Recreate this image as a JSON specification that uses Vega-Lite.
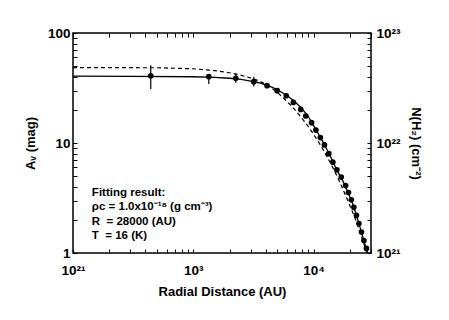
{
  "$schema": "https://vega.github.io/schema/vega-lite/v6.json",
  "autosize": "none",
  "width": 298,
  "height": 220,
  "padding": {"left": 73, "top": 33, "right": 78, "bottom": 67},
  "background": "white",
  "config": {
    "view": {"stroke": "black", "strokeWidth": 1.5},
    "font": "Liberation Sans",
    "axis": {
      "grid": false,
      "domain": false,
      "tickColor": "black",
      "tickWidth": 1,
      "tickSize": -4,
      "labelFont": "Liberation Sans",
      "labelFontWeight": "bold",
      "labelFontSize": 13.5,
      "labelColor": "black",
      "titleFont": "Liberation Sans",
      "titleFontWeight": "bold",
      "titleFontSize": 13,
      "titleColor": "black",
      "labelOverlap": false,
      "labelFlush": false
    }
  },
  "datasets": {
    "solid": [
      {"r": 100, "av": 40.5}, {"r": 300, "av": 40.4}, {"r": 1000, "av": 40.0},
      {"r": 1500, "av": 39.5}, {"r": 2000, "av": 38.8}, {"r": 2500, "av": 37.8},
      {"r": 3000, "av": 36.6}, {"r": 3500, "av": 35.3}, {"r": 4000, "av": 33.8},
      {"r": 4500, "av": 32.2}, {"r": 5000, "av": 30.5}, {"r": 6000, "av": 27.0},
      {"r": 7000, "av": 23.7}, {"r": 8000, "av": 20.5}, {"r": 9000, "av": 17.5},
      {"r": 10000, "av": 14.4}, {"r": 11000, "av": 12.0}, {"r": 12000, "av": 10.2},
      {"r": 13000, "av": 8.6}, {"r": 14000, "av": 7.3}, {"r": 15000, "av": 6.2},
      {"r": 16000, "av": 5.4}, {"r": 17000, "av": 4.8}, {"r": 18000, "av": 4.25},
      {"r": 19000, "av": 3.7}, {"r": 20000, "av": 3.25}, {"r": 21000, "av": 2.85},
      {"r": 22000, "av": 2.45}, {"r": 23000, "av": 2.1}, {"r": 24000, "av": 1.8},
      {"r": 25000, "av": 1.55}, {"r": 26000, "av": 1.33}, {"r": 27000, "av": 1.15},
      {"r": 28000, "av": 1.0}
    ],
    "dashed": [
      {"r": 100, "av": 48.5}, {"r": 500, "av": 48.3}, {"r": 1000, "av": 47.3},
      {"r": 1500, "av": 45.5}, {"r": 2000, "av": 43.5}, {"r": 2500, "av": 41.2},
      {"r": 3000, "av": 39.0}, {"r": 3500, "av": 36.8}, {"r": 4000, "av": 34.2},
      {"r": 4500, "av": 31.5}, {"r": 5000, "av": 28.8}, {"r": 6000, "av": 24.0},
      {"r": 7000, "av": 20.0}, {"r": 8000, "av": 16.8}, {"r": 9000, "av": 14.2},
      {"r": 10000, "av": 12.0}, {"r": 11000, "av": 10.2}, {"r": 12000, "av": 8.7},
      {"r": 13000, "av": 7.4}, {"r": 14000, "av": 6.4}, {"r": 15000, "av": 5.5},
      {"r": 16000, "av": 4.75}, {"r": 17000, "av": 4.1}, {"r": 18000, "av": 3.55},
      {"r": 19000, "av": 3.1}, {"r": 20000, "av": 2.7}, {"r": 22000, "av": 2.1},
      {"r": 24000, "av": 1.62}, {"r": 26000, "av": 1.24}, {"r": 27000, "av": 1.09},
      {"r": 28000, "av": 1.0}
    ],
    "obs": [
      {"r": 443, "av": 40.9, "lo": 31, "hi": 51},
      {"r": 1345, "av": 40.1, "lo": 34.4, "hi": 42.5},
      {"r": 2255, "av": 38.7, "lo": 35.3, "hi": 43},
      {"r": 3180, "av": 36.1, "lo": 32.6, "hi": 40.1},
      {"r": 4100, "av": 33.2, "lo": 32, "hi": 34.4},
      {"r": 4980, "av": 29.9, "lo": 29, "hi": 30.8},
      {"r": 5930, "av": 26.9, "lo": 26.2, "hi": 27.6},
      {"r": 6790, "av": 23.4, "lo": 22.8, "hi": 24},
      {"r": 7820, "av": 20.2, "lo": 19.7, "hi": 20.7},
      {"r": 8610, "av": 17.6, "lo": 17.2, "hi": 18},
      {"r": 9610, "av": 15.3, "lo": 15, "hi": 15.6},
      {"r": 10450, "av": 13.1, "lo": 12.8, "hi": 13.4},
      {"r": 11380, "av": 11.2, "lo": 11, "hi": 11.4},
      {"r": 12300, "av": 9.6, "lo": 9.4, "hi": 9.8},
      {"r": 13370, "av": 8.0, "lo": 7.85, "hi": 8.15},
      {"r": 14450, "av": 6.7, "lo": 6.6, "hi": 6.8},
      {"r": 15610, "av": 5.7, "lo": 5.6, "hi": 5.8},
      {"r": 16970, "av": 4.9, "lo": 4.8, "hi": 5.0},
      {"r": 18460, "av": 4.1, "lo": 4.0, "hi": 4.2},
      {"r": 19500, "av": 3.55, "lo": 3.48, "hi": 3.62},
      {"r": 20600, "av": 3.05, "lo": 3.0, "hi": 3.1},
      {"r": 21600, "av": 2.6, "lo": 2.55, "hi": 2.65},
      {"r": 22700, "av": 2.2, "lo": 2.16, "hi": 2.24},
      {"r": 23800, "av": 1.85, "lo": 1.82, "hi": 1.88},
      {"r": 25000, "av": 1.55, "lo": 1.52, "hi": 1.58},
      {"r": 26200, "av": 1.3, "lo": 1.28, "hi": 1.32},
      {"r": 27500, "av": 1.1, "lo": 1.08, "hi": 1.12}
    ],
    "right": [{"r": 100, "n": 1e21}, {"r": 30000, "n": 1e23}]
  },
  "layer": [
    {
      "layer": [
        {
          "data": {"name": "dashed"},
          "mark": {"type": "line", "color": "black", "strokeWidth": 1.2, "strokeDash": [4, 3], "clip": true},
          "encoding": {
            "x": {"field": "r", "type": "quantitative"},
            "y": {"field": "av", "type": "quantitative"}
          }
        },
        {
          "data": {"name": "solid"},
          "mark": {"type": "line", "color": "black", "strokeWidth": 1.3, "clip": true},
          "encoding": {
            "x": {"field": "r", "type": "quantitative"},
            "y": {"field": "av", "type": "quantitative"}
          }
        },
        {
          "data": {"name": "obs"},
          "mark": {"type": "rule", "color": "black", "strokeWidth": 1.2},
          "encoding": {
            "x": {"field": "r", "type": "quantitative"},
            "y": {"field": "lo", "type": "quantitative"},
            "y2": {"field": "hi"}
          }
        },
        {
          "data": {"name": "obs"},
          "mark": {"type": "point", "filled": true, "color": "black", "opacity": 1, "size": 32},
          "encoding": {
            "x": {
              "field": "r", "type": "quantitative",
              "scale": {"type": "log", "domain": [100, 30000], "nice": false},
              "axis": {
                "title": "Radial Distance (AU)",
                "values": [100, 200, 300, 400, 500, 600, 700, 800, 900, 1000, 2000, 3000, 4000, 5000, 6000, 7000, 8000, 9000, 10000, 20000, 30000],
                "labelExpr": "datum.value == 100 ? '10²¹' : datum.value == 1000 ? '10³' : datum.value == 10000 ? '10⁴' : ''",
                "labelPadding": 14,
                "titlePadding": 9
              }
            },
            "y": {
              "field": "av", "type": "quantitative",
              "scale": {"type": "log", "domain": [1, 100], "nice": false},
              "axis": {
                "title": "Aᵥ (mag)",
                "values": [1, 2, 3, 4, 5, 6, 7, 8, 9, 10, 20, 30, 40, 50, 60, 70, 80, 90, 100],
                "labelExpr": "datum.value == 1 ? '1' : datum.value == 10 ? '10' : datum.value == 100 ? '100' : ''",
                "labelPadding": 7,
                "titlePadding": 10
              }
            }
          }
        },
        {
          "data": {"values": [{"r": 143.5, "av": 4.0}]},
          "mark": {
            "type": "text", "align": "left", "baseline": "top",
            "font": "Liberation Sans", "fontWeight": "bold", "fontSize": 11.5,
            "lineHeight": 14.5, "color": "black",
            "text": ["Fitting result:", "ρc = 1.0x10⁻¹⁸ (g cm⁻³)", "R\u00a0 = 28000 (AU)", "T\u00a0 = 16 (K)"]
          },
          "encoding": {
            "x": {"field": "r", "type": "quantitative"},
            "y": {"field": "av", "type": "quantitative"}
          }
        }
      ]
    },
    {
      "data": {"name": "right"},
      "mark": {"type": "point", "opacity": 0},
      "encoding": {
        "x": {
          "field": "r", "type": "quantitative",
          "scale": {"type": "log", "domain": [100, 30000], "nice": false},
          "axis": {
            "orient": "top", "title": null, "labels": false,
            "values": [100, 200, 300, 400, 500, 600, 700, 800, 900, 1000, 2000, 3000, 4000, 5000, 6000, 7000, 8000, 9000, 10000, 20000, 30000]
          }
        },
        "y": {
          "field": "n", "type": "quantitative",
          "scale": {"type": "log", "domain": [1e21, 1e23], "nice": false},
          "axis": {
            "orient": "right",
            "title": "N(H₂) (cm⁻²)",
            "values": [1e21, 2e21, 3e21, 4e21, 5e21, 6e21, 7e21, 8e21, 9e21, 1e22, 2e22, 3e22, 4e22, 5e22, 6e22, 7e22, 8e22, 9e22, 1e23],
            "labelExpr": "datum.value == 1e21 ? '10²¹' : datum.value == 1e22 ? '10²²' : datum.value == 1e23 ? '10²³' : ''",
            "labelPadding": 9,
            "titlePadding": 8
          }
        }
      }
    }
  ],
  "resolve": {"scale": {"x": "independent", "y": "independent"}}
}
